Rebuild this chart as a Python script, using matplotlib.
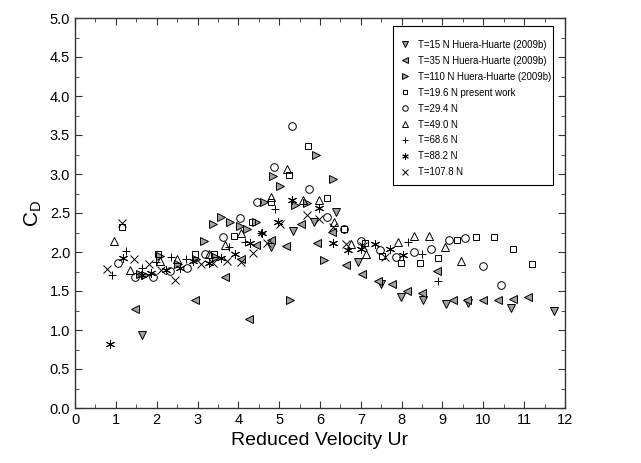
import matplotlib
matplotlib.use("Agg")
import matplotlib.pyplot as plt
from matplotlib.ticker import MultipleLocator
from matplotlib.patches import Rectangle

plt.rcParams['font.family'] = ['Liberation Sans', 'DejaVu Sans']
plt.rcParams['mathtext.fontset'] = 'custom'
plt.rcParams['mathtext.rm'] = 'Liberation Sans'
plt.rcParams['mathtext.it'] = 'Liberation Sans'

labels = ["T=15 N Huera-Huarte (2009b)", "T=35 N Huera-Huarte (2009b)",
          "T=110 N Huera-Huarte (2009b)", "T=19.6 N present work",
          "T=29.4 N", "T=49.0 N", "T=68.6 N", "T=88.2 N", "T=107.8 N"]

t15_ur = [1.65, 4.81, 5.34, 5.86, 6.40, 6.94, 7.50, 7.98, 8.53, 9.09, 9.63, 10.68, 11.74]
t15_cd = [0.93, 2.06, 2.27, 2.39, 2.51, 1.87, 1.59, 1.42, 1.38, 1.33, 1.35, 1.28, 1.25]

t35_ur = [1.47, 2.93, 3.67, 4.06, 4.27, 4.44, 4.81, 5.17, 5.54, 5.93, 6.29, 6.64, 7.02,
          7.43, 7.76, 8.13, 8.50, 8.87, 9.26, 9.61, 9.98, 10.35, 10.72, 11.10]
t35_cd = [1.27, 1.38, 1.68, 1.91, 1.14, 2.09, 2.16, 2.08, 2.36, 2.12, 2.26, 1.83, 1.72,
          1.63, 1.59, 1.50, 1.48, 1.76, 1.38, 1.38, 1.38, 1.38, 1.40, 1.42]

t110_ur = [1.58, 1.72, 2.09, 2.53, 2.96, 3.16, 3.38, 3.45, 3.58, 3.79, 4.04, 4.21, 4.44,
           4.62, 4.84, 5.03, 5.26, 5.38, 5.69, 5.91, 6.11, 6.31]
t110_cd = [1.72, 1.71, 1.95, 1.85, 1.91, 2.14, 2.36, 1.94, 2.45, 2.39, 2.33, 2.29, 2.39,
           2.64, 2.98, 2.85, 1.38, 2.60, 2.63, 3.24, 1.90, 2.94]

t196_ur = [1.14, 2.04, 2.95, 3.41, 3.89, 4.33, 4.81, 5.25, 5.71, 6.16, 6.60, 7.10, 7.52,
           7.98, 8.45, 8.90, 9.36, 9.82, 10.27, 10.73, 11.18]
t196_cd = [2.32, 1.97, 1.98, 1.97, 2.20, 2.39, 2.64, 2.99, 3.36, 2.69, 2.30, 2.12, 1.95,
           1.86, 1.86, 1.92, 2.16, 2.19, 2.19, 2.04, 1.85]

t294_ur = [1.06, 1.48, 1.91, 2.33, 2.75, 3.19, 3.62, 4.04, 4.46, 4.88, 5.32, 5.74, 6.16,
           6.58, 7.01, 7.47, 7.87, 8.29, 8.72, 9.16, 9.56, 10.00, 10.44]
t294_cd = [1.86, 1.68, 1.68, 1.76, 1.79, 1.98, 2.19, 2.43, 2.64, 3.09, 3.62, 2.81, 2.45,
           2.30, 2.14, 2.02, 1.93, 2.00, 2.04, 2.16, 2.18, 1.82, 1.58]

t490_ur = [0.95, 1.34, 2.09, 2.51, 3.27, 3.67, 4.06, 4.81, 5.20, 5.59, 5.97, 6.35, 6.75,
           7.13, 7.91, 8.29, 8.67, 9.06, 9.45]
t490_cd = [2.14, 1.77, 1.89, 1.91, 1.97, 2.09, 2.25, 2.70, 3.07, 2.67, 2.67, 2.38, 2.10,
           1.97, 2.13, 2.20, 2.20, 2.07, 1.88]

t686_ur = [0.90, 1.26, 1.63, 1.98, 2.35, 2.71, 3.78, 4.17, 4.56, 4.90, 8.15, 8.51, 8.88]
t686_cd = [1.70, 2.01, 1.79, 1.87, 1.93, 1.91, 2.06, 2.13, 2.24, 2.55, 2.13, 1.97, 1.63]

t882_ur = [0.85, 1.17, 1.64, 1.87, 2.24, 2.57, 2.90, 3.27, 3.57, 3.93, 4.29, 4.59, 4.98,
           5.31, 5.98, 6.33, 6.68, 7.01, 7.34, 7.71, 8.04]
t882_cd = [0.82, 1.92, 1.71, 1.73, 1.77, 1.80, 1.88, 1.86, 1.92, 1.97, 2.12, 2.25, 2.38,
           2.67, 2.57, 2.12, 2.03, 2.04, 2.10, 2.04, 1.96]

t1078_ur = [0.79, 1.14, 1.45, 1.80, 2.11, 2.44, 3.08, 3.39, 3.72, 4.06, 4.37, 4.70, 5.03,
            5.69, 5.98, 6.33, 6.64, 7.05, 7.60]
t1078_cd = [1.78, 2.37, 1.91, 1.85, 1.77, 1.64, 1.85, 1.86, 1.88, 1.87, 1.99, 2.12, 2.36,
            2.47, 2.42, 2.32, 2.10, 2.08, 1.93]

xs = [t15_ur, t35_ur, t110_ur, t196_ur, t294_ur, t490_ur, t686_ur, t882_ur, t1078_ur]
ys = [t15_cd, t35_cd, t110_cd, t196_cd, t294_cd, t490_cd, t686_cd, t882_cd, t1078_cd]
markers = ['v', '<', '>', 's', 'o', '^', '+', (6, 2, 0), 'x']
grey = '#a0a0a0'
faces = [grey, grey, grey, 'none', 'none', 'none', 'none', 'none', 'none']
sizes = [5.5, 5.5, 5.5, 5, 5.5, 6, 6, 6.5, 6]

fig = plt.figure(figsize=(6.41, 4.63), dpi=100)
ax = fig.add_axes([75/641, 55/463, 490/641, 390/463])

for x, y, m, fc, ms, lab in zip(xs, ys, markers, faces, sizes, labels):
    ax.plot(x, y, linestyle='none', marker=m, markersize=ms, markerfacecolor=fc,
            markeredgecolor='black', markeredgewidth=0.7, color='black', label=lab)

ax.set_xlim(0, 12)
ax.set_ylim(0, 5)
ax.xaxis.set_major_locator(MultipleLocator(1))
ax.xaxis.set_minor_locator(MultipleLocator(0.5))
ax.yaxis.set_major_locator(MultipleLocator(0.5))
ax.yaxis.set_minor_locator(MultipleLocator(0.25))
ax.yaxis.set_major_formatter(plt.FormatStrFormatter('%.1f'))
ax.tick_params(which='both', direction='in', top=True, right=True, labelsize=10.5,
               color='#333333')
ax.tick_params(which='major', length=5)
ax.tick_params(which='minor', length=3)
for s in ax.spines.values():
    s.set_linewidth(1.0)
    s.set_color('#333333')

ax.set_xlabel('Reduced Velocity Ur', fontsize=14, labelpad=4)
ax.set_ylabel(r'C$_\mathrm{D}$', fontsize=15, labelpad=4)

# legend frame drawn separately
frame = Rectangle((0.649, 0.572), 0.3265, 0.407, transform=ax.transAxes,
                  facecolor='white', edgecolor='black', linewidth=0.8, zorder=4)
ax.add_patch(frame)
leg = ax.legend(loc='upper left', bbox_to_anchor=(0.663, 0.944), fontsize=6.9,
                frameon=False, markerscale=0.72, handlelength=1.0, handletextpad=0.9,
                labelspacing=0.62, borderpad=0, borderaxespad=0)
leg.set_zorder(5)

fig.savefig('out.png', dpi=100)
